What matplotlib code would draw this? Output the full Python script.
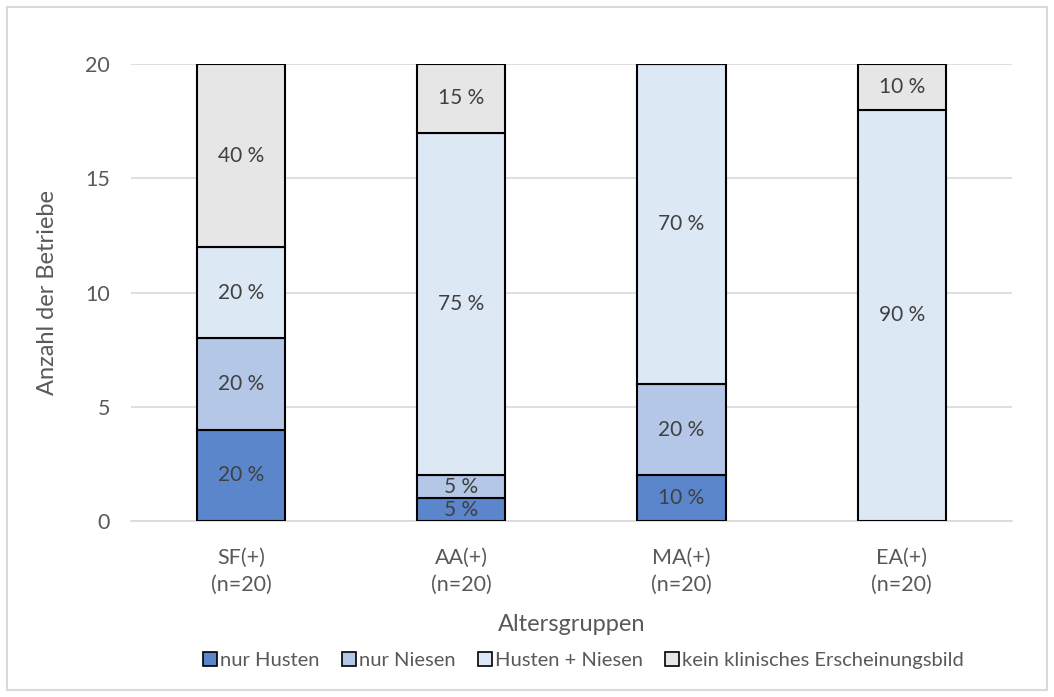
import numpy as np
import matplotlib
matplotlib.use("Agg")
import matplotlib.pyplot as plt
from matplotlib.patches import Rectangle
from matplotlib.lines import Line2D

# Betriebe je Altersgruppe (n=20) nach klinischem Erscheinungsbild
gruppen = ["SF(+)\n(n=20)", "AA(+)\n(n=20)", "MA(+)\n(n=20)", "EA(+)\n(n=20)"]
n_betriebe = 20
nur_husten = [4, 1, 2, 0]
nur_niesen = [4, 1, 4, 0]
husten_niesen = [4, 15, 14, 18]
kein_bild = [8, 3, 0, 2]

serien = ["nur Husten", "nur Niesen", "Husten + Niesen", "kein klinisches Erscheinungsbild"]
farben = ["#5b86cc", "#b4c7e7", "#dde8f5", "#e6e6e6"]

plt.rcParams["font.family"] = ["Lato", "DejaVu Sans"]
textfarbe = "#595959"

fig = plt.figure(figsize=(10.54, 6.97), dpi=100)
ax = fig.add_axes([0.1243, 0.2525, 0.8357, 0.6555])

x = np.arange(len(gruppen))
unten = np.zeros(len(gruppen))
for name, werte, farbe in zip(serien, [nur_husten, nur_niesen, husten_niesen, kein_bild], farben):
    werte = np.array(werte, dtype=float)
    ax.bar(x, werte, bottom=unten, width=0.40, color=farbe, edgecolor="black",
           linewidth=1.5, label=name, zorder=3)
    for xi, w, u in zip(x, werte, unten):
        if w > 0:
            ax.text(xi, u + w / 2, "%d %%" % round(w / n_betriebe * 100),
                    ha="center", va="center", fontsize=15, color="#404040", zorder=4)
    unten += werte

ax.set_xlim(-0.5, 3.5)
ax.set_ylim(0, 20)
ax.set_yticks([0, 5, 10, 15, 20])
ax.set_xticks(x)
ax.set_xticklabels(gruppen, linespacing=1.45)
ax.yaxis.grid(True, color="#d9d9d9", linewidth=1.2, zorder=0)
for s in ["top", "right", "left"]:
    ax.spines[s].set_visible(False)
ax.spines["bottom"].set_color("#d9d9d9")
ax.spines["bottom"].set_linewidth(1.2)
ax.tick_params(axis="both", length=0, labelsize=15.5, colors=textfarbe)
ax.tick_params(axis="y", pad=15)
ax.tick_params(axis="x", pad=19)
ax.set_ylabel("Anzahl der Betriebe", fontsize=17, color=textfarbe, labelpad=20)
ax.set_xlabel("Altersgruppen", fontsize=17, color=textfarbe, labelpad=14)

handles = [Line2D([], [], marker="s", linestyle="none", markersize=10,
                  markerfacecolor=f, markeredgecolor="black", markeredgewidth=1.2)
           for f in farben]
fig.legend(handles, serien, loc="center", bbox_to_anchor=(0.551, 0.052), ncol=4,
           frameon=False, fontsize=14.5, handletextpad=-0.1, columnspacing=0.85,
           handlelength=1.2, labelcolor=textfarbe)

fig.patches.append(Rectangle((0.007, 0.01), 0.986, 0.98, transform=fig.transFigure,
                             fill=False, edgecolor="#d9d9d9", linewidth=1.5))

fig.savefig("out.png", dpi=100, facecolor="white")
